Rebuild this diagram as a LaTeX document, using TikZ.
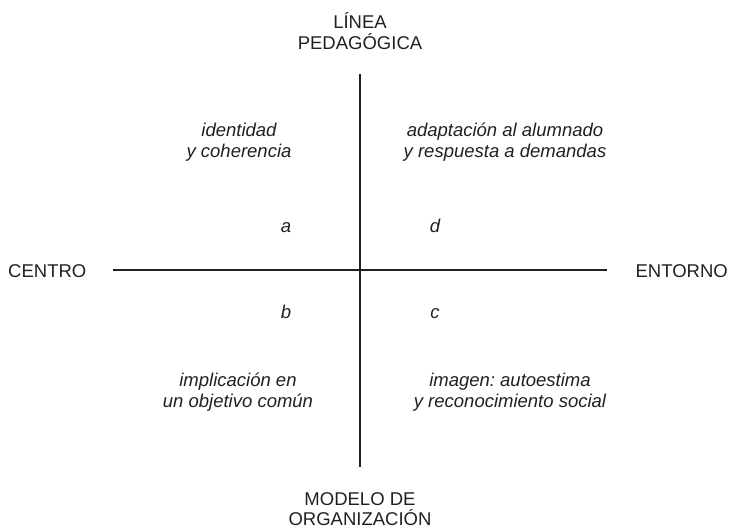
\documentclass[tikz,border=0pt]{standalone}
\usepackage{fontspec}
\setmainfont{Liberation Sans}
\frenchspacing
\definecolor{ink}{HTML}{231F20}
\begin{document}
\begin{tikzpicture}[x=1pt,y=-1pt,
  lbl/.style={inner sep=0pt,align=center,text=ink,font=\fontsize{18.5}{21}\selectfont},
  itl/.style={lbl,font=\fontsize{18.5}{21}\selectfont\itshape},
  axis/.style={draw=ink,line width=1.8pt}]
\useasboundingbox (0,0) rectangle (729,531);
% axis ends
\coordinate (vt) at (360,74);
\coordinate (vb) at (360,467);
\coordinate (hl) at (113,270);
\coordinate (hr) at (607,270);
\draw[axis] (vt) -- (vb);
\draw[axis] (hl) -- (hr);
% pole labels
\node[lbl] (top) at (360,31) {LÍNEA\\PEDAGÓGICA};
\node[lbl,font=\fontsize{18.5}{20}\selectfont] (bot) at (360,509.5) {MODELO DE\\ORGANIZACIÓN};
\node[lbl,anchor=west] (left) at (8,271.5) {CENTRO};
\node[lbl,anchor=east] (right) at (728,271.5) {ENTORNO};
% quadrant texts
\node[itl] (qa) at (239,142.5) {identidad\\y coherencia};
\node[itl] (qd) at (505,142.5) {adaptación al alumnado\\y respuesta a demandas};
\node[itl] (qb) at (238,392) {implicación en\\un objetivo común};
\node[itl] (qc) at (510,392) {imagen: autoestima\\y reconocimiento social};
% quadrant letters
\node[itl,anchor=base] (la) at (286,232) {a};
\node[itl,anchor=base] (ld) at (435,232) {d};
\node[itl,anchor=base] (lb) at (286,318) {b};
\node[itl,anchor=base] (lc) at (435,318) {c};
\end{tikzpicture}
\end{document}
